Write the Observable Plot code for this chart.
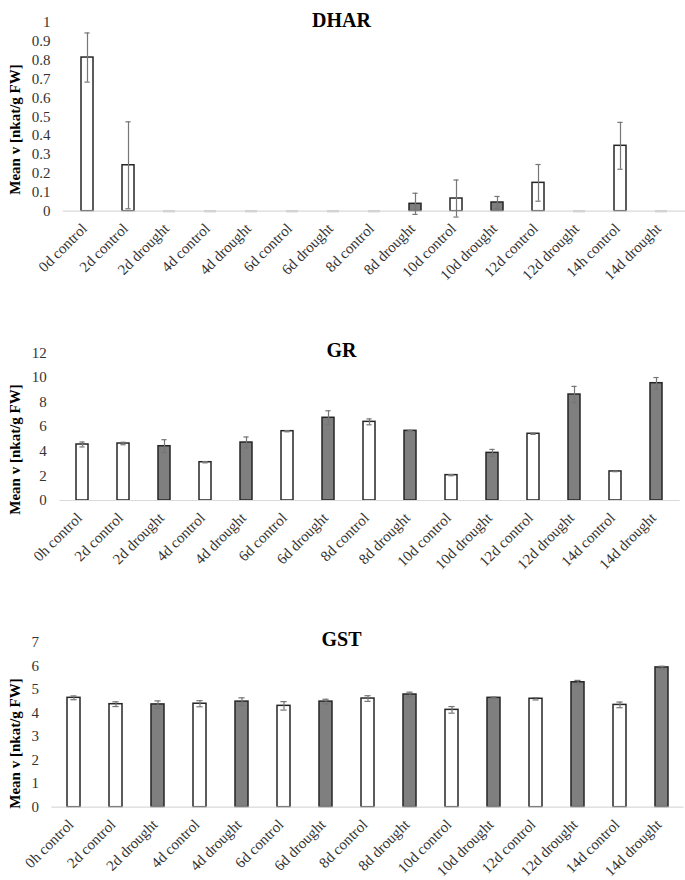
<!DOCTYPE html>
<html><head><meta charset="utf-8">
<script src="https://cdn.jsdelivr.net/npm/d3@7"></script>
<script src="https://cdn.jsdelivr.net/npm/@observablehq/plot@0.6"></script>
<style>
body{margin:0;background:#fff;}
#chart{position:relative;width:685px;height:880px;background:#fff;}
#chart svg{position:absolute;left:0;}
</style></head><body><div id="chart"></div>
<script>
const yLabel = "Mean v [nkat/g FW]";

const dharTitle = "DHAR";
const dharCategories = ["0d control","2d control","2d drought","4d control","4d drought","6d control","6d drought","8d control","8d drought","10d control","10d drought","12d control","12d drought","14h control","14d drought"];
const dharValues = [0.813, 0.243, 0, 0, 0, 0, 0, 0, 0.039, 0.067, 0.046, 0.150, 0, 0.346, 0];
const dharErrors = [0.13, 0.23, 0, 0, 0, 0, 0, 0, 0.056, 0.098, 0.032, 0.097, 0, 0.124, 0];
const dharTicks = [0, 0.1, 0.2, 0.3, 0.4, 0.5, 0.6, 0.7, 0.8, 0.9, 1];

const grTitle = "GR";
const grCategories = ["0h control","2d control","2d drought","4d control","4d drought","6d control","6d drought","8d control","8d drought","10d control","10d drought","12d control","12d drought","14d control","14d drought"];
const grValues = [4.55, 4.63, 4.41, 3.11, 4.71, 5.63, 6.72, 6.39, 5.66, 2.06, 3.87, 5.42, 8.61, 2.36, 9.53];
const grErrors = [0.2, 0.1, 0.53, 0.05, 0.45, 0.05, 0.57, 0.24, 0.04, 0.05, 0.28, 0.05, 0.66, 0.02, 0.46];
const grTicks = [0, 2, 4, 6, 8, 10, 12];

const gstTitle = "GST";
const gstCategories = ["0h control","2d control","2d drought","4d control","4d drought","6d control","6d drought","8d control","8d drought","10d control","10d drought","12d control","12d drought","14d control","14d drought"];
const gstValues = [4.64, 4.37, 4.36, 4.39, 4.48, 4.30, 4.48, 4.61, 4.78, 4.13, 4.64, 4.60, 5.30, 4.34, 5.93];
const gstErrors = [0.08, 0.10, 0.15, 0.13, 0.16, 0.18, 0.10, 0.12, 0.10, 0.14, 0.03, 0.05, 0.08, 0.12, 0.05];
const gstTicks = [0, 1, 2, 3, 4, 5, 6, 7];

const FONT = "'Liberation Serif', 'Times New Roman', serif";

function panel(o) {
  const rows = o.categories.map((c, i) => ({cat: c, v: o.values[i], e: o.errors[i], drought: c.includes("drought")}));
  const ctrl = rows.filter(d => d.v > 0 && !d.drought);
  const dro = rows.filter(d => d.v > 0 && d.drought);
  const zeros = rows.filter(d => d.v === 0);
  const errs = rows.filter(d => d.e > 0);
  const barStyle = {x: "cat", y: "v", stroke: "#262626", strokeWidth: 1.5};
  const errColor = "#767676";
  const svg = Plot.plot({
    width: 685, height: o.height,
    marginTop: o.marginTop, marginBottom: o.marginBottom, marginLeft: o.marginLeft, marginRight: o.marginRight,
    style: {fontFamily: FONT, fontSize: "15px", color: "#333", background: "transparent", overflow: "visible"},
    x: {type: "band", domain: o.categories, paddingInner: 0.7, paddingOuter: 0.35, align: 0.5},
    y: {domain: [0, o.ticks[o.ticks.length - 1]]},
    marks: [
      Plot.barY(ctrl, {...barStyle, fill: "#ffffff"}),
      Plot.barY(dro, {...barStyle, fill: "#7f7f7f"}),
      Plot.ruleY([0], {stroke: "#d9d9d9", strokeWidth: 1.2}),
      Plot.tickY(zeros, {x: "cat", y: "v", stroke: "#d4d4d4", strokeWidth: 2.5}),
      Plot.ruleX(errs, {x: "cat", y1: d => d.v - d.e, y2: d => d.v + d.e, stroke: errColor, strokeWidth: 1.2}),
      Plot.tickY(errs, {x: "cat", y: d => d.v + d.e, insetLeft: 3.4, insetRight: 3.4, stroke: errColor, strokeWidth: 1.2}),
      Plot.tickY(errs, {x: "cat", y: d => d.v - d.e, insetLeft: 3.4, insetRight: 3.4, stroke: errColor, strokeWidth: 1.2}),
      Plot.axisY({ticks: o.ticks, tickFormat: d => String(d), tickSize: 0, tickPadding: 13, fontSize: 15, label: null}),
      Plot.axisX({tickRotate: -45, tickSize: 0, tickPadding: 15, dx: -3, fontSize: 15, label: null}),
      Plot.text([o.title], {frameAnchor: "top-left", text: d => d, dx: 341 - o.marginLeft, dy: o.titleY - o.marginTop,
        fontSize: 20, fontWeight: "bold", fill: "#000", textAnchor: "middle"}),
      Plot.text([yLabel], {frameAnchor: "top-left", text: d => d, rotate: -90, dx: 9 - o.marginLeft, dy: o.labelY - o.marginTop,
        fontSize: 15, fontWeight: "bold", fill: "#000", textAnchor: "middle"})
    ]
  });
  svg.style.top = o.top + "px";
  return svg;
}

const chart = document.getElementById("chart");
chart.append(panel({title: dharTitle, categories: dharCategories, values: dharValues, errors: dharErrors, ticks: dharTicks,
  top: 0, height: 290, marginTop: 21.7, marginBottom: 79.3, marginLeft: 63, marginRight: 0, titleY: 12, labelY: 129}));
chart.append(panel({title: grTitle, categories: grCategories, values: grValues, errors: grErrors, ticks: grTicks,
  top: 290, height: 290, marginTop: 62.3, marginBottom: 80, marginLeft: 59.3, marginRight: 5.3, titleY: 52.7, labelY: 159}));
chart.append(panel({title: gstTitle, categories: gstCategories, values: gstValues, errors: gstErrors, ticks: gstTicks,
  top: 580, height: 300, marginTop: 61.7, marginBottom: 73.3, marginLeft: 51.4, marginRight: 1.4, titleY: 51.7, labelY: 163}));
</script></body></html>
